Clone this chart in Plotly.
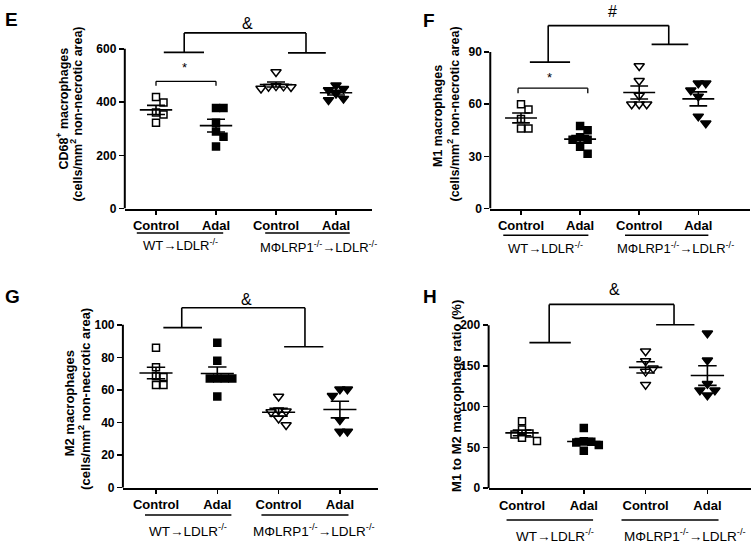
import numpy as np
import plotly.graph_objects as go

# ---------------- data ----------------
categories = ["Control", "Adal", "Control", "Adal"]
group_labels = ["WT\u2192LDLR<sup>-/-</sup>", "M\u03a6LRP1<sup>-/-</sup>\u2192LDLR<sup>-/-</sup>"]

E_ctrl_wt = [419, 398, 361, 353, 322]
E_adal_wt = [378, 378, 322, 289, 270, 233]
E_ctrl_ko = [513, 460, 459, 458, 457, 451]
E_adal_ko = [463, 450, 445, 432, 413, 408]
E_ticks = [0, 200, 400, 600]

F_ctrl_wt = [60, 57, 51.5, 46, 46]
F_adal_wt = [47.5, 45, 41, 39.5, 39.5, 35.5, 31.5]
F_ctrl_ko = [82, 73.5, 65, 60, 60, 60]
F_adal_ko = [72, 72, 68, 64.5, 53, 49]
F_ticks = [0, 30, 60, 90]

G_ctrl_wt = [86, 74, 68.5, 68, 63, 63]
G_adal_wt = [89, 78, 67, 67, 67, 67, 56]
G_ctrl_ko = [56, 47.5, 47, 46.5, 42.5, 38.5]
G_adal_ko = [60.5, 60.5, 56.5, 41.5, 34.5, 34.5]
G_ticks = [0, 20, 40, 60, 80, 100]

H_ctrl_wt = [82, 72, 67, 66, 62, 58]
H_adal_wt = [74, 57.5, 57, 56, 53, 46]
H_ctrl_ko = [168, 156, 147, 143, 127]
H_adal_ko = [190, 157, 128, 120, 120, 114]
H_ticks = [0, 50, 100, 150, 200]

# ---------------- layout config ----------------
W, H = 751, 553
FONT = "Liberation Sans, Arial, sans-serif"

panels = [
    dict(letter="E", groups=[E_ctrl_wt, E_adal_wt, E_ctrl_ko, E_adal_ko], ticks=E_ticks,
         cat1=156, step=60.0, xr=[0.48, 4.6], y0=211.2, ppu=0.2695, ytop=700,
         title=["CD68<sup>+</sup> macrophages", "(cells/mm<sup>2</sup> non-necrotic area)"],
         tpos=[(62, 110), (76.5, 115.5)], tsize=12.5,
         letter_pos=(11, 20),
         bracket=dict(l=(1.13, 1.80, 1.47, 587), r=(3.20, 3.83, 3.50, 585), top=660, sym="&", sx=2.53, sy=694),
         star=dict(x0=1.0, x1=2.0, y=478, leg=461, sx=1.48, sy=530),
         glines=dict(py=236, segs=[(0.68, 2.12), (2.82, 4.23)]),
         glabels=[(1.41, 248.5), (3.71, 250)], cat_size=13, gsize=13),
    dict(letter="F", groups=[F_ctrl_wt, F_adal_wt, F_ctrl_ko, F_adal_ko], ticks=F_ticks,
         cat1=521, step=59.1, xr=[0.48, 4.88], y0=211.2, ppu=1.761, ytop=118,
         title=["M1 macrophages", "(cells/mm<sup>2</sup> non-necrotic area)"],
         tpos=[(438, 117.5), (453, 116)], tsize=12.5,
         letter_pos=(429, 21),
         bracket=dict(l=(1.15, 1.83, 1.46, 84.2), r=(3.21, 3.83, 3.50, 94.4), top=105.2, sym="#", sx=2.55, sy=113.4),
         star=dict(x0=0.95, x1=2.13, y=69.2, leg=66.3, sx=1.49, sy=75.5),
         glines=dict(py=238.3, segs=[(0.70, 2.14), (2.76, 4.17)]),
         glabels=[(1.41, 250.7), (3.61, 250.7)], cat_size=13, gsize=13),
    dict(letter="G", groups=[G_ctrl_wt, G_adal_wt, G_ctrl_ko, G_adal_ko], ticks=G_ticks,
         cat1=156, step=61.3, xr=[0.46, 4.62], y0=494, ppu=1.65, ytop=122,
         title=["M2 macrophages", "(cells/mm<sup>2</sup> non-necrotic area)"],
         tpos=[(69, 408.5), (84, 404)], tsize=13,
         letter_pos=(12.5, 300),
         bracket=dict(l=(1.12, 1.75, 1.42, 98.3), r=(3.09, 3.73, 3.43, 86.5), top=110.5, sym="&", sx=2.48, sy=115.8),
         star=None,
         glines=dict(py=521.7, segs=[(0.82, 2.23), (2.72, 4.14)]),
         glabels=[(1.52, 536.7), (3.57, 536.7)], cat_size=13, gsize=13.5),
    dict(letter="H", groups=[H_ctrl_wt, H_adal_wt, H_ctrl_ko, H_adal_ko], ticks=H_ticks,
         cat1=522, step=61.8, xr=[0.46, 4.7], y0=494.5, ppu=0.826, ytop=250,
         title=["M1 to M2 macrophage ratio (%)"],
         tpos=[(457, 401)], tsize=13,
         letter_pos=(430, 300.5),
         bracket=dict(l=(1.12, 1.79, 1.44, 178.6), r=(3.17, 3.79, 3.46, 200.4), top=225.4, sym="&", sx=2.50, sy=243.6),
         star=None,
         glines=dict(py=526.7, segs=[(0.75, 2.15), (2.61, 4.18)]),
         glabels=[(1.53, 541.7), (3.64, 541.7)], cat_size=13, gsize=13.5),
]

symbols = ["square-open", "square", "triangle-down-open", "triangle-down"]
msizes = [7, 7, 9, 9]


def swarm_offsets(vals, ppu, size_px):
    """Simple beeswarm: returns horizontal offsets in pixels."""
    order = sorted(range(len(vals)), key=lambda i: -vals[i])
    cands = [0.0]
    for j in range(1, 12):
        cands += [j * size_px * 0.5, -j * size_px * 0.5]
    placed = []
    res = [0.0] * len(vals)
    for i in order:
        y = vals[i] * ppu
        chosen = cands[-1]
        for c in cands:
            if all(abs(c - px) >= size_px or abs(y - py) >= size_px for px, py in placed):
                chosen = c
                break
        placed.append((chosen, y))
        res[i] = chosen
    return res


fig = go.Figure()
layout = dict(width=W, height=H, margin=dict(l=0, r=0, t=0, b=0), autosize=False,
              paper_bgcolor="white", plot_bgcolor="white", showlegend=False,
              font=dict(family=FONT, color="black"))
shapes = []
annotations = []

LW = 1.6
for k, p in enumerate(panels):
    xa = "xaxis" if k == 0 else f"xaxis{k+1}"
    ya = "yaxis" if k == 0 else f"yaxis{k+1}"
    xr_ = "x" if k == 0 else f"x{k+1}"
    yr_ = "y" if k == 0 else f"y{k+1}"
    x0px = p["cat1"] + (p["xr"][0] - 1) * p["step"]
    x1px = p["cat1"] + (p["xr"][1] - 1) * p["step"]
    ytop_px = p["y0"] - p["ytop"] * p["ppu"]
    layout[xa] = dict(domain=[x0px / W, min(x1px / W, 1.0)], range=p["xr"], anchor=yr_,
                      tickvals=[1, 2, 3, 4], ticktext=categories, showgrid=False, zeroline=False,
                      showline=True, linecolor="black", linewidth=2, ticks="outside", ticklen=4,
                      tickwidth=1.5, tickcolor="black",
                      tickfont=dict(family=FONT, size=p["cat_size"], color="black", weight="bold"))
    layout[ya] = dict(domain=[1 - p["y0"] / H, min(1 - ytop_px / H, 1.0)], range=[0, p["ytop"]], anchor=xr_,
                      tickvals=p["ticks"], showgrid=False, zeroline=False, showline=False,
                      ticks="outside", ticklen=5, tickwidth=1.5, tickcolor="black",
                      tickfont=dict(family=FONT, size=12, color="black", weight="bold"))
    # y axis line up to the top tick
    shapes.append(dict(type="line", xref="paper", yref=yr_, x0=x0px / W, x1=x0px / W,
                       y0=0, y1=p["ticks"][-1], line=dict(color="black", width=2)))

    # points + mean/SEM
    lx, ly = [], []
    for g, vals in enumerate(p["groups"]):
        c = g + 1
        offs = swarm_offsets(vals, p["ppu"], 7.5)
        xs = [c + o / p["step"] for o in offs]
        fig.add_trace(go.Scatter(x=xs, y=vals, mode="markers", xaxis=xr_, yaxis=yr_,
                                 marker=dict(symbol=symbols[g], size=msizes[g], color="black",
                                             line=dict(color="black", width=1.5)),
                                 hoverinfo="skip"))
        arr = np.array(vals, dtype=float)
        m = arr.mean()
        sem = arr.std(ddof=1) / np.sqrt(len(arr))
        lx += [c - 0.27, c + 0.27, None, c - 0.15, c + 0.15, None, c - 0.15, c + 0.15, None, c, c, None]
        ly += [m, m, None, m + sem, m + sem, None, m - sem, m - sem, None, m - sem, m + sem, None]
    fig.add_trace(go.Scatter(x=lx, y=ly, mode="lines", xaxis=xr_, yaxis=yr_,
                             line=dict(color="black", width=LW), hoverinfo="skip"))

    # significance bracket (group comparison)
    b = p["bracket"]
    lxa, lxb, lxv, ly_ = b["l"]
    rxa, rxb, rxv, ry_ = b["r"]
    for (xa0, ya0, xa1, ya1) in [
        (lxa, ly_, lxb, ly_), (lxv, ly_, lxv, b["top"]), (lxv, b["top"], rxv, b["top"]),
        (rxv, b["top"], rxv, ry_), (rxa, ry_, rxb, ry_)]:
        shapes.append(dict(type="line", xref=xr_, yref=yr_, x0=xa0, y0=ya0, x1=xa1, y1=ya1,
                           line=dict(color="black", width=LW)))
    annotations.append(dict(x=b["sx"], y=b["sy"], xref=xr_, yref=yr_, text=b["sym"], showarrow=False,
                            font=dict(family=FONT, size=16, color="black"), xanchor="center", yanchor="middle"))
    s = p["star"]
    if s:
        for (xa0, ya0, xa1, ya1) in [(s["x0"], s["leg"], s["x0"], s["y"]), (s["x0"], s["y"], s["x1"], s["y"]),
                                     (s["x1"], s["y"], s["x1"], s["leg"])]:
            shapes.append(dict(type="line", xref=xr_, yref=yr_, x0=xa0, y0=ya0, x1=xa1, y1=ya1,
                               line=dict(color="black", width=1.3)))
        annotations.append(dict(x=s["sx"], y=s["sy"], xref=xr_, yref=yr_, text="*", showarrow=False,
                                font=dict(family=FONT, size=13, color="black"), xanchor="center", yanchor="middle"))

    # group lines + labels
    gl = p["glines"]
    for (a, bb) in gl["segs"]:
        shapes.append(dict(type="line", xref=xr_, yref="paper", x0=a, x1=bb, y0=1 - gl["py"] / H,
                           y1=1 - gl["py"] / H, line=dict(color="black", width=1.5)))
    for (gx, gy), txt in zip(p["glabels"], group_labels):
        annotations.append(dict(x=gx, y=1 - gy / H, xref=xr_, yref="paper", text=txt, showarrow=False,
                                font=dict(family=FONT, size=p["gsize"], color="black"),
                                xanchor="center", yanchor="middle"))

    # y titles
    for txt, (tx, ty) in zip(p["title"], p["tpos"]):
        annotations.append(dict(x=tx / W, y=1 - ty / H, xref="paper", yref="paper", text=f"<b>{txt}</b>",
                                textangle=-90, showarrow=False,
                                font=dict(family=FONT, size=p["tsize"], color="black"),
                                xanchor="center", yanchor="middle"))
    # panel letter
    lpx, lpy = p["letter_pos"]
    annotations.append(dict(x=lpx / W, y=1 - lpy / H, xref="paper", yref="paper", text=f"<b>{p['letter']}</b>",
                            showarrow=False, font=dict(family=FONT, size=19, color="black"),
                            xanchor="center", yanchor="middle"))

layout["shapes"] = shapes
layout["annotations"] = annotations
fig.update_layout(**layout)
fig.write_html("out.html", config={"displayModeBar": False, "staticPlot": True},
               post_script="document.body.style.margin='0';document.body.style.overflow='hidden';")
